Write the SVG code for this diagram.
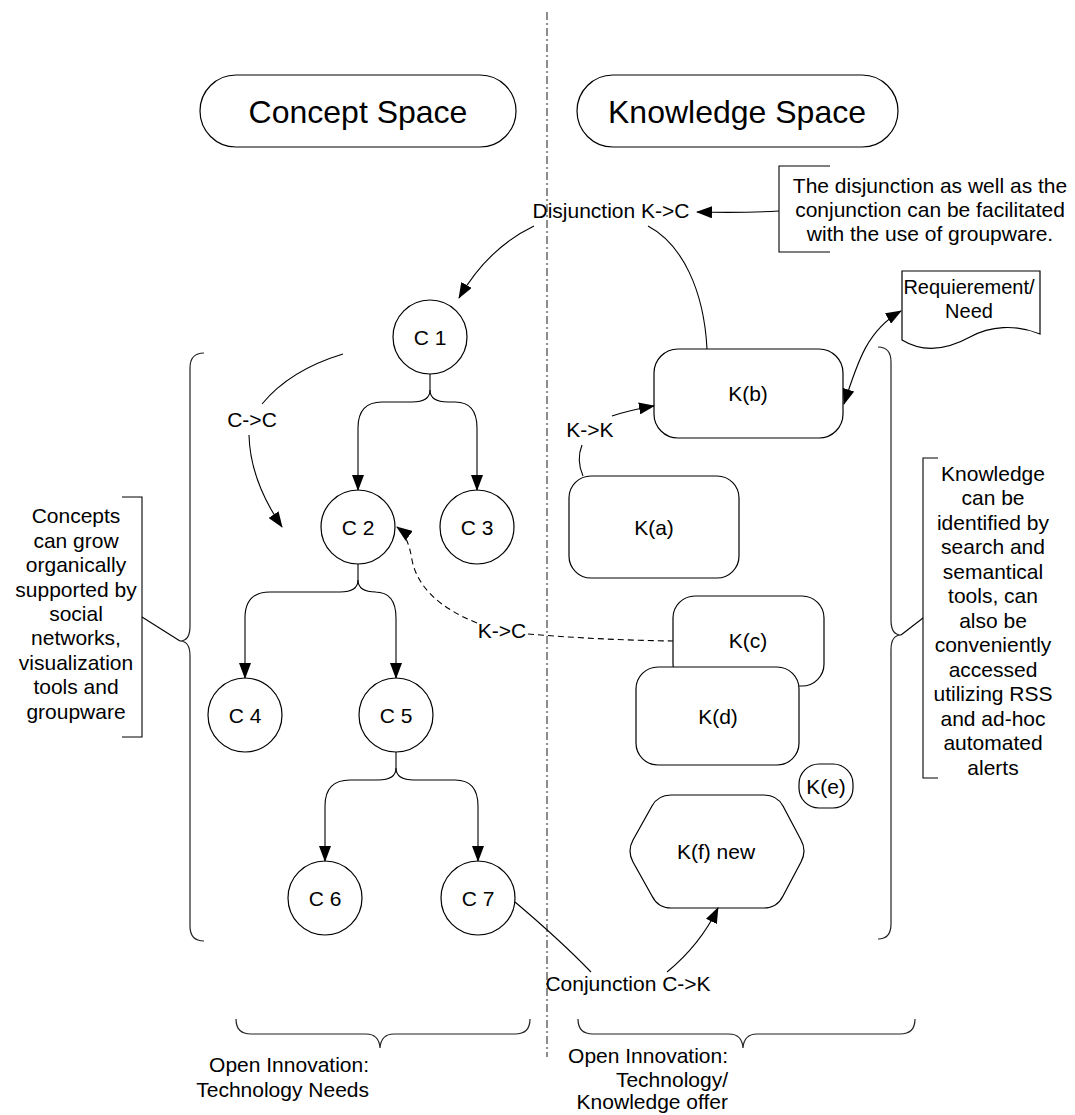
<svg xmlns="http://www.w3.org/2000/svg" width="1075" height="1115" viewBox="0 0 1075 1115">
<style>
text{font-family:"Liberation Sans",Arial,sans-serif;font-size:21px;fill:#000;text-anchor:middle}
.hdr{font-size:32px}
.shape{fill:#fff;stroke:#000;stroke-width:1.2}
.ln{fill:none;stroke:#000;stroke-width:1.1}
.dash{fill:none;stroke:#000;stroke-width:1.1;stroke-dasharray:6 4}
.brace{fill:none;stroke:#222;stroke-width:1.2}
.div{stroke:#444;stroke-width:1.2;stroke-dasharray:8 3 2 3}
</style>
<defs>
<marker id="arr" viewBox="0 0 16 12" refX="15" refY="6" markerWidth="16" markerHeight="12" markerUnits="userSpaceOnUse" orient="auto-start-reverse">
<path d="M0,0 L16,6 L0,12 Z" fill="#000"/>
</marker>
</defs>
<rect width="1075" height="1115" fill="#fff"/>
<line class="div" x1="547" y1="12" x2="547" y2="1057"/>

<g id="concept-space"><rect class="shape" x="200" y="75" width="316" height="72" rx="36"/><text class="hdr" x="358" y="123">Concept Space</text></g>
<g id="knowledge-space"><rect class="shape" x="577" y="75" width="321" height="72" rx="36"/><text class="hdr" x="737" y="123">Knowledge Space</text></g>

<g id="note-groupware"><path class="ln" d="M830,166 L779,166 L779,252 L830,252"/>
<text x="930" y="193">The disjunction as well as the</text>
<text x="930" y="217">conjunction can be facilitated</text>
<text x="930" y="241">with the use of groupware.</text></g>

<g id="disjunction"><text x="611" y="218">Disjunction K-&gt;C</text></g>
<g id="conjunction"><text x="628" y="991">Conjunction C-&gt;K</text></g>

<g id="requirement"><path class="shape" d="M902,271 L1040,271 L1040,334 C1015,324 990,326 970,337 C950,348 925,354 902,340 Z"/>
<text x="969" y="294" style="font-size:20px">Requierement/</text><text x="969" y="318" style="font-size:20px">Need</text></g>

<g id="C1"><circle class="shape" cx="430" cy="337" r="37"/><text x="430" y="345">C 1</text></g>
<g id="C2"><circle class="shape" cx="358" cy="527" r="37"/><text x="358" y="535">C 2</text></g>
<g id="C3"><circle class="shape" cx="477" cy="527" r="37"/><text x="477" y="535">C 3</text></g>
<g id="C4"><circle class="shape" cx="245" cy="715" r="37"/><text x="245" y="723">C 4</text></g>
<g id="C5"><circle class="shape" cx="396" cy="715" r="37"/><text x="396" y="723">C 5</text></g>
<g id="C6"><circle class="shape" cx="325" cy="898" r="37"/><text x="325" y="906">C 6</text></g>
<g id="C7"><circle class="shape" cx="478" cy="898" r="37"/><text x="478" y="906">C 7</text></g>

<g id="Kb"><rect class="shape" x="654" y="349" width="189" height="89" rx="24"/><text x="748" y="401">K(b)</text></g>
<g id="Ka"><rect class="shape" x="569" y="476" width="170" height="102" rx="22"/><text x="654" y="535">K(a)</text></g>
<g id="Kc"><rect class="shape" x="673" y="596" width="151" height="90" rx="22"/><text x="748" y="648">K(c)</text></g>
<g id="Kd"><rect class="shape" x="636" y="667" width="163" height="98" rx="22"/><text x="718" y="724">K(d)</text></g>
<g id="Ke"><rect class="shape" x="799" y="764" width="54" height="44" rx="20"/><text x="826" y="794">K(e)</text></g>
<g id="Kf"><path class="shape" d="M633,840 Q627,851 633,862 L652,896 Q658,908 671,908 L764,908 Q777,908 783,896 L801,862 Q807,851 801,840 L783,806 Q777,795 764,795 L671,795 Q658,795 652,806 Z"/><text x="716" y="859">K(f) new</text></g>

<g id="brace-left"><path class="brace" d="M204,353 Q190,353 190,368 L190,626 Q190,641 180,641 Q190,641 190,656 L190,926 Q190,941 204,941"/></g>
<g id="note-concepts"><path class="ln" d="M122,497 L142,497 L142,737 L122,737"/>
<text x="76" y="523">Concepts</text><text x="76" y="548">can grow</text><text x="76" y="572">organically</text><text x="76" y="597">supported by</text><text x="76" y="621">social</text><text x="76" y="645">networks,</text><text x="76" y="670">visualization</text><text x="76" y="694">tools and</text><text x="76" y="719">groupware</text></g>

<g id="brace-right"><path class="brace" d="M878,347 Q891,347 891,362 L891,620 Q891,635 901,635 Q891,635 891,650 L891,924 Q891,939 878,939"/></g>
<g id="note-knowledge"><path class="ln" d="M938,458 L923,458 L923,778 L938,778"/>
<text x="993" y="481">Knowledge</text><text x="993" y="505">can be</text><text x="993" y="530">identified by</text><text x="993" y="554">search and</text><text x="993" y="579">semantical</text><text x="993" y="603">tools, can</text><text x="993" y="628">also be</text><text x="993" y="652">conveniently</text><text x="993" y="677">accessed</text><text x="993" y="701">utilizing RSS</text><text x="993" y="726">and ad-hoc</text><text x="993" y="750">automated</text><text x="993" y="775">alerts</text></g>

<g id="brace-bottom-left"><path class="brace" d="M236,1019 Q236,1034 251,1034 L366,1034 Q379,1034 380,1048 Q381,1034 394,1034 L515,1034 Q530,1034 530,1019"/>
<text x="369" y="1072" style="text-anchor:end">Open Innovation:</text><text x="369" y="1097" style="text-anchor:end">Technology Needs</text></g>
<g id="brace-bottom-right"><path class="brace" d="M578,1019 Q578,1034 593,1034 L729,1034 Q742,1034 743,1048 Q744,1034 757,1034 L900,1034 Q915,1034 915,1019"/>
<text x="728" y="1063" style="text-anchor:end">Open Innovation:</text><text x="728" y="1087" style="text-anchor:end">Technology/</text><text x="728" y="1109" style="text-anchor:end">Knowledge offer</text></g>

<g id="connectors">
<path class="ln" marker-end="url(#arr)" d="M779,211 Q745,213 697,212"/>
<path class="ln" marker-end="url(#arr)" d="M534,226 Q488,248 459,298"/>
<path class="ln" d="M648,226 C682,244 704,290 707,349"/>
<path class="ln" marker-start="url(#arr)" marker-end="url(#arr)" d="M844,404 C858,360 868,330 901,311"/>
<path class="ln" marker-end="url(#arr)" d="M430,374 L430,390 Q430,402 412,402 L382,402 Q358,402 358,428 L358,490"/>
<path class="ln" marker-end="url(#arr)" d="M430,390 Q430,402 448,402 L455,402 Q477,402 477,428 L477,490"/>
<path class="ln" marker-end="url(#arr)" d="M358,564 L358,580 Q358,592 340,592 L270,592 Q245,592 245,618 L245,678"/>
<path class="ln" marker-end="url(#arr)" d="M358,580 Q358,592 376,592 L375,592 Q396,592 396,618 L396,678"/>
<path class="ln" marker-end="url(#arr)" d="M396,752 L396,768 Q396,780 378,780 L350,780 Q325,780 325,806 L325,861"/>
<path class="ln" marker-end="url(#arr)" d="M396,768 Q396,780 414,780 L455,780 Q478,780 478,806 L478,861"/>
<path class="ln" d="M343,354 Q290,370 262,404"/>
<text x="252" y="427">C-&gt;C</text>
<path class="ln" marker-end="url(#arr)" d="M249,435 Q250,480 282,527"/>
<text x="590" y="437">K-&gt;K</text>
<path class="ln" d="M582,445 Q576,460 583,476"/>
<path class="ln" marker-end="url(#arr)" d="M612,416 Q630,410 654,406"/>
<text x="502" y="638">K-&gt;C</text>
<path class="dash" marker-end="url(#arr)" d="M477,623 Q420,600 412,560 Q408,535 397,527"/>
<path class="dash" d="M528,634 Q600,640 673,641"/>
<path class="ln" d="M515,902 Q560,940 591,972"/>
<path class="ln" marker-end="url(#arr)" d="M667,972 Q700,945 718,908"/>
<path class="ln" d="M180,641 L142,617"/>
<path class="ln" d="M901,635 L923,618"/>
</g>
</svg>
